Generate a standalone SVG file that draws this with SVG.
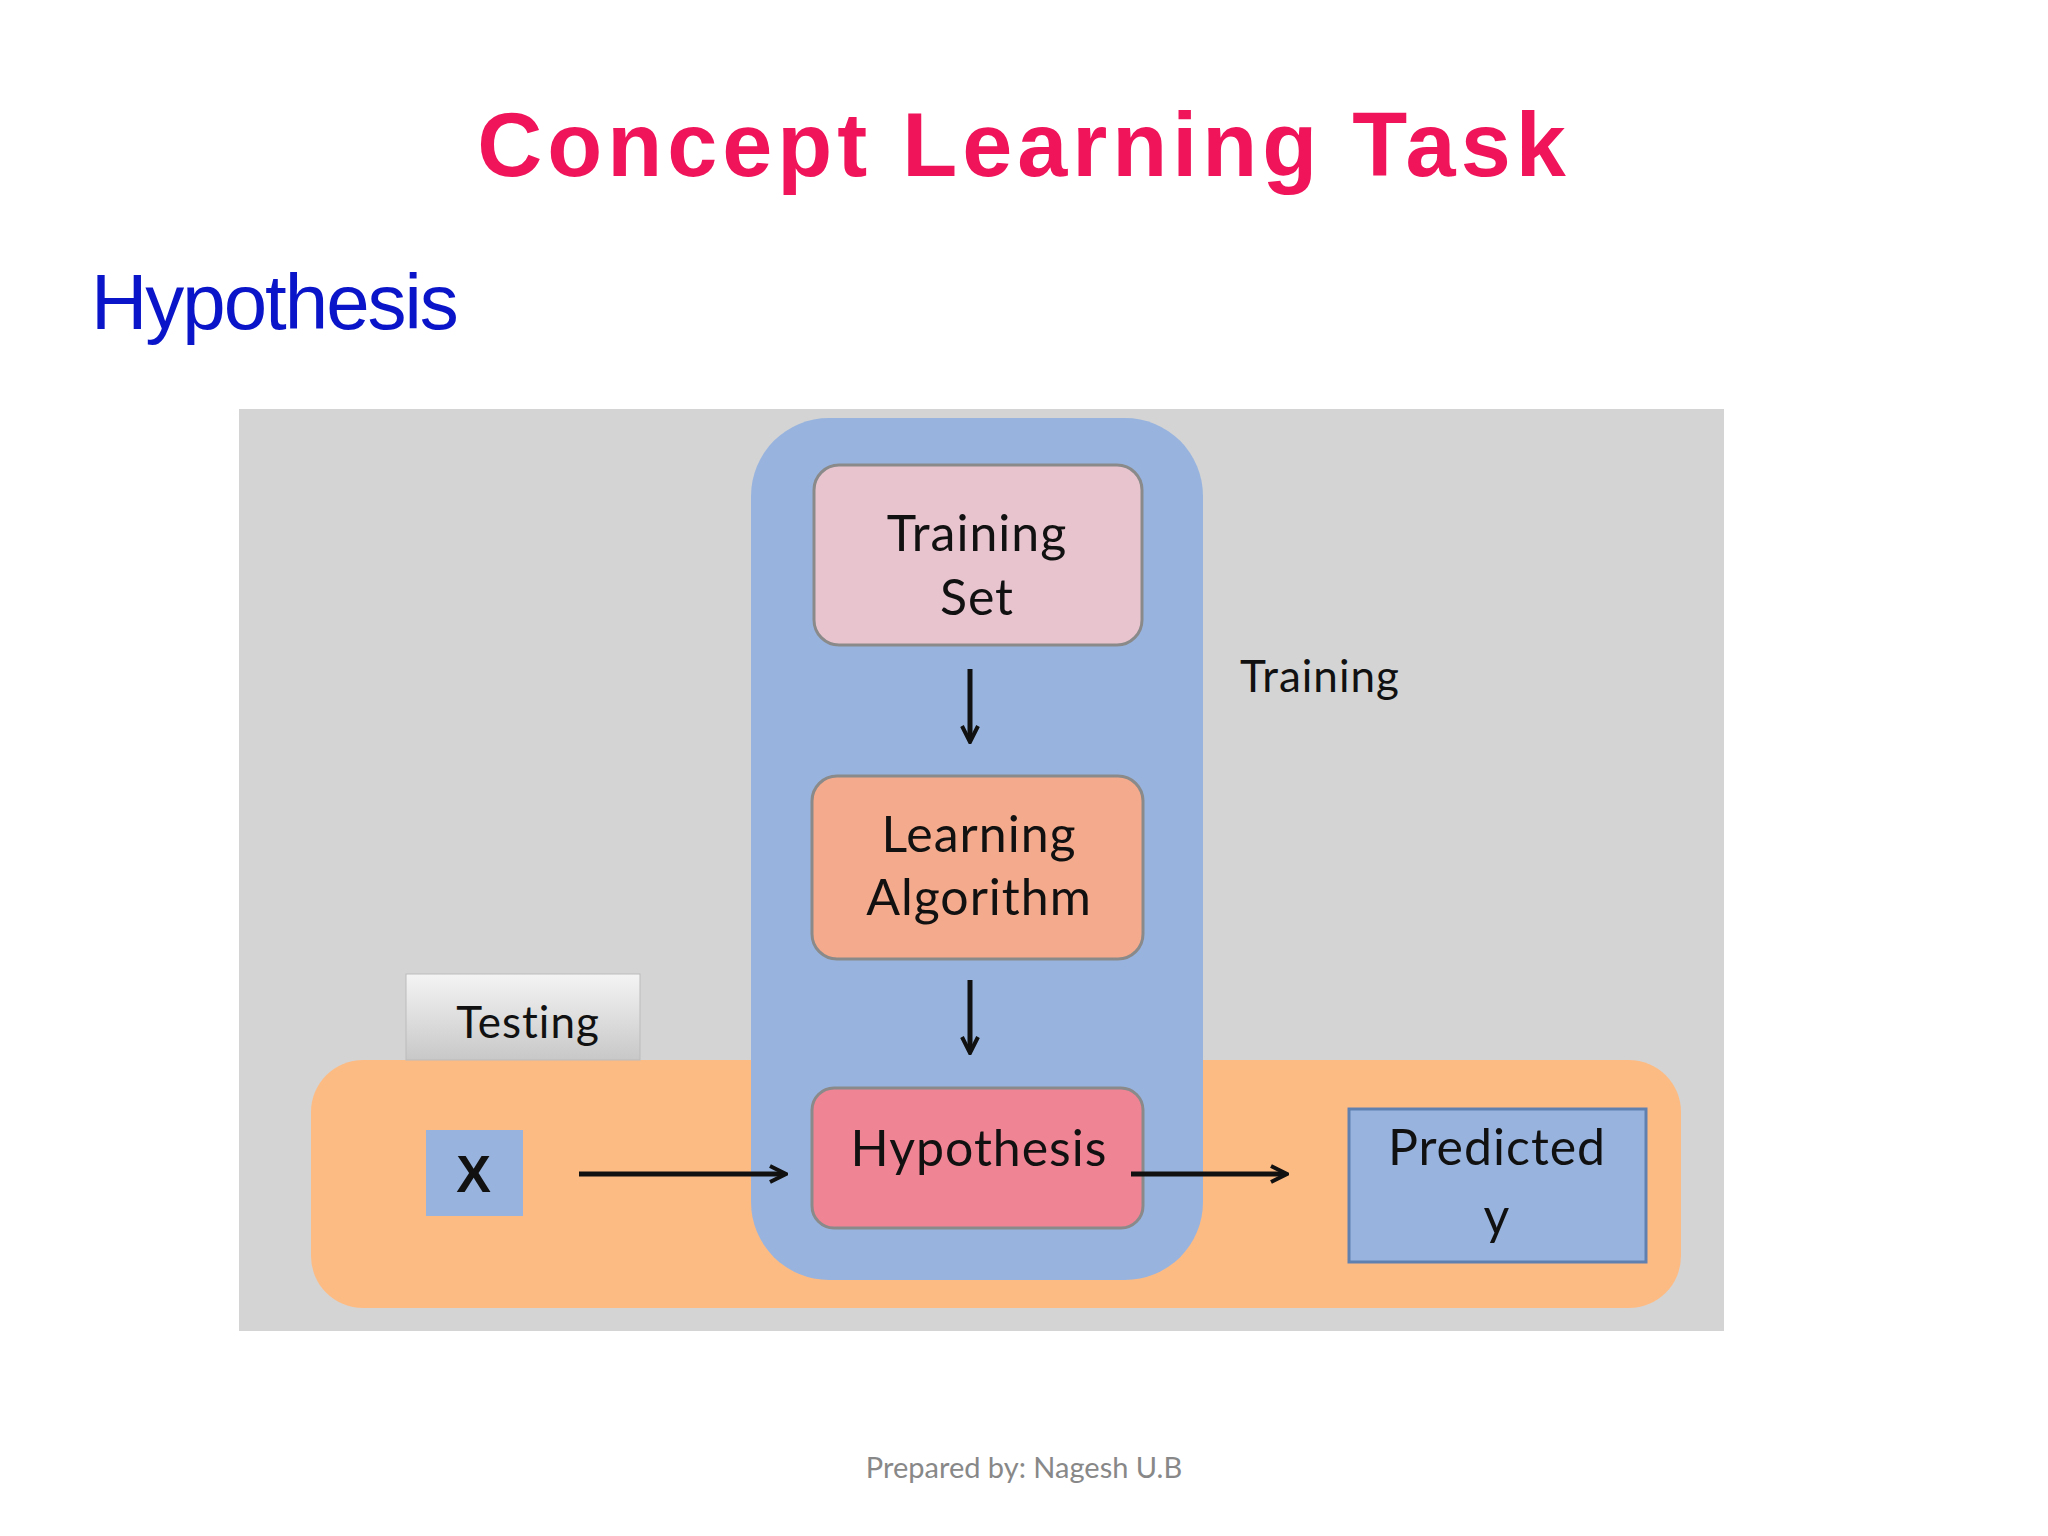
<svg xmlns="http://www.w3.org/2000/svg" width="2048" height="1536" viewBox="0 0 2048 1536">
<defs>
<style>
.lbl{font-family:Lato,"Open Sans",sans-serif;font-size:50px;fill:#111;text-anchor:middle;letter-spacing:1px}
.box{stroke:#8a8a8a;stroke-width:3}
.ar{stroke:#111;stroke-width:5;fill:none;marker-end:url(#ah)}
</style>
<marker id="ah" viewBox="0 0 10 10" refX="8" refY="5" markerWidth="4" markerHeight="4" orient="auto"><path d="M1,1 L9,5 L1,9" fill="none" stroke="#111" stroke-width="2"/></marker>
<linearGradient id="tg" x1="0" y1="0" x2="0" y2="1"><stop offset="0" stop-color="#f4f4f4"/><stop offset="1" stop-color="#c8c8c8"/></linearGradient>
</defs>
<rect width="2048" height="1536" fill="#fff"/>
<text x="1024" y="176" text-anchor="middle" font-family="Liberation Sans,Arial,sans-serif" font-weight="bold" font-size="90" letter-spacing="5" fill="#F0145A">Concept Learning Task</text>
<text x="91" y="329" font-family="Liberation Sans,Arial,sans-serif" font-size="78" fill="#0A14C8" letter-spacing="-2">Hypothesis</text>
<rect x="239" y="409" width="1485" height="922" fill="#D4D4D4"/>
<rect id="testing-band" x="311" y="1060" width="1370" height="248" rx="52" fill="#FDBB84"/>
<rect id="training-column" x="751" y="418" width="452" height="862" rx="78" fill="#98B4DE"/>
<g id="training-set"><rect class="box" x="814" y="465" width="328" height="180" rx="25" fill="#E8C4CF"/><text class="lbl" x="977" y="551">Training</text><text class="lbl" x="977" y="615">Set</text></g>
<g id="learning-algorithm"><rect class="box" x="812" y="776" width="331" height="183" rx="25" fill="#F4AA8C"/><text class="lbl" x="979" y="852">Learning</text><text class="lbl" x="979" y="915">Algorithm</text></g>
<g id="hypothesis"><rect class="box" x="812" y="1088" width="331" height="140" rx="22" fill="#EE8494"/><text class="lbl" x="979" y="1166">Hypothesis</text></g>
<g id="training-label"><text class="lbl" x="1320" y="692" font-size="44" style="font-size:44px">Training</text></g>
<g id="testing"><rect x="406" y="974" width="234" height="86" fill="url(#tg)" stroke="#bbb"/><text class="lbl" x="528" y="1038" style="font-size:44px">Testing</text></g>
<g id="x"><rect x="426" y="1130" width="97" height="86" fill="#98B4DE"/><text class="lbl" x="474" y="1192" font-weight="bold" style="font-size:52px;font-family:'Liberation Sans',Arial,sans-serif">X</text></g>
<g id="predicted"><rect x="1349" y="1109" width="297" height="153" fill="#98B4DE" stroke="#6080B0" stroke-width="3"/><text class="lbl" x="1497" y="1165">Predicted</text><text class="lbl" x="1497" y="1234">y</text></g>
<g id="connectors">
<line class="ar" x1="970" y1="669" x2="970" y2="740"/>
<line class="ar" x1="970" y1="980" x2="970" y2="1051"/>
<line class="ar" x1="579" y1="1174" x2="784" y2="1174"/>
<line class="ar" x1="1131" y1="1174" x2="1285" y2="1174"/>
</g>
<text x="1024" y="1478" text-anchor="middle" font-family="Lato,sans-serif" font-size="29" fill="#888">Prepared by: Nagesh U.B</text>
</svg>
